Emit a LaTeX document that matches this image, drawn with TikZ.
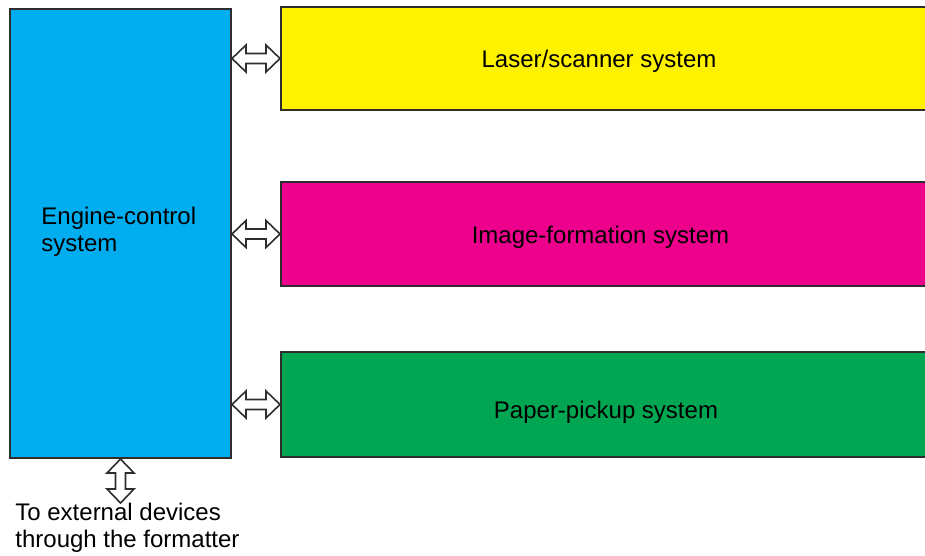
\documentclass[tikz,border=0pt]{standalone}
\usepackage{fontspec}
\setmainfont{Liberation Sans}
\usetikzlibrary{calc}

\definecolor{ecsblue}{RGB}{0,174,239}
\definecolor{lsyellow}{RGB}{255,242,0}
\definecolor{ifmagenta}{RGB}{236,0,140}
\definecolor{ppgreen}{RGB}{0,166,81}
\definecolor{edgegray}{RGB}{45,45,45}

\tikzset{
  sysbox/.style={rectangle, draw=edgegray, line width=1pt, inner sep=0pt, minimum width=323pt, minimum height=52pt},
  syslabel/.style={draw=none, anchor=base, inner sep=0pt, font=\fontsize{12}{13.5}\selectfont},
  notelabel/.style={draw=none, anchor=north west, inner sep=0pt, align=left, font=\fontsize{12}{13.5}\selectfont},
  bus/.style={draw=edgegray, fill=white, line width=0.8pt, line join=miter, to path={
    -- ($(\tikztostart)!7pt!(\tikztotarget)!6.75pt!90:(\tikztotarget)$)
    -- ($(\tikztostart)!7pt!(\tikztotarget)!2.5pt!90:(\tikztotarget)$)
    -- ($(\tikztotarget)!7pt!(\tikztostart)!2.5pt!-90:(\tikztostart)$)
    -- ($(\tikztotarget)!7pt!(\tikztostart)!6.75pt!-90:(\tikztostart)$)
    -- (\tikztotarget)
    -- ($(\tikztotarget)!7pt!(\tikztostart)!6.75pt!90:(\tikztostart)$)
    -- ($(\tikztotarget)!7pt!(\tikztostart)!2.5pt!90:(\tikztostart)$)
    -- ($(\tikztostart)!7pt!(\tikztotarget)!2.5pt!-90:(\tikztotarget)$)
    -- ($(\tikztostart)!7pt!(\tikztotarget)!6.75pt!-90:(\tikztotarget)$)
    -- cycle}}
}

\begin{document}
\begin{tikzpicture}[x=0.5pt, y=-0.5pt]
\useasboundingbox (0,0) rectangle (925,556);
% the systems
\node[sysbox, fill=ecsblue, minimum width=110.5pt, minimum height=224.5pt] (ecs) at (120.5,233.5) {};
\node[sysbox, fill=lsyellow, minimum height=51.5pt] (las) at (604,58.5) {};
\node[sysbox, fill=ifmagenta] (ifs) at (604,234) {};
\node[sysbox, fill=ppgreen, minimum height=52.5pt] (pps) at (604,404.5) {};
\node[syslabel] (laslabel) at (599,68) {Laser/scanner system};
\node[syslabel] (ifslabel) at (600.5,243) {Image-formation system};
\node[syslabel] (ppslabel) at (606,418) {Paper-pickup system};
\node[notelabel] (ecslabel) at (41,206.5) {Engine-control\\system};
\node[notelabel] (extlabel) at (15,502.5) {To external devices\\through the formatter};
% buses
\coordinate (ecs-las) at (ecs.east |- las.west);
\coordinate (ecs-ifs) at (ecs.east |- ifs.west);
\coordinate (ecs-pps) at (ecs.east |- pps.west);
\coordinate (ecs-ext) at ([yshift=-22pt]ecs.south);
\draw[bus] (ecs-las) to (las.west);
\draw[bus] (ecs-ifs) to (ifs.west);
\draw[bus] (ecs-pps) to (pps.west);
\draw[bus] (ecs.south) to (ecs-ext);
\end{tikzpicture}
\end{document}
